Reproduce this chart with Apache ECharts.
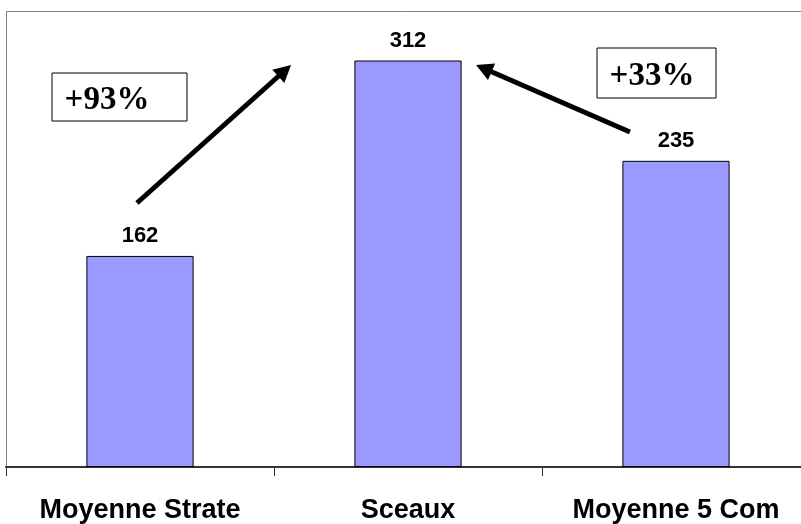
<!DOCTYPE html>
<html><head><meta charset="utf-8">
<script src="https://cdn.jsdelivr.net/npm/echarts@6/dist/echarts.min.js"></script>
<style>html,body{margin:0;padding:0;background:#fff}#c{width:801px;height:524px}</style>
</head><body><div id="c"></div>
<script>
var categories = ['Moyenne Strate', 'Sceaux', 'Moyenne 5 Com'];
var values = [162, 312, 235];
var changeLabels = ['+93%', '+33%'];

var chart = echarts.init(document.getElementById('c'));

function arrow(x1, y1, x2, y2) {
  var dx = x2 - x1, dy = y2 - y1, L = Math.sqrt(dx*dx + dy*dy);
  var ux = dx / L, uy = dy / L, px = -uy, py = ux;
  var hl = 17, hw = 9;
  var bx = x2 - ux*hl, by = y2 - uy*hl;
  return [
    {type:'line', shape:{x1:x1, y1:y1, x2:bx+ux*2, y2:by+uy*2}, style:{stroke:'#000', lineWidth:5}},
    {type:'polygon', shape:{points:[[x2,y2],[bx+px*hw,by+py*hw],[bx-px*hw,by-py*hw]]}, style:{fill:'#000'}}
  ];
}

function box(x, y, w, h, txt, tx) {
  return [
    {type:'rect', shape:{x:x, y:y, width:w, height:h}, style:{fill:'#fff', stroke:'#000', lineWidth:1}},
    {type:'text', x:tx, y:y + h/2 + 3, style:{text:txt, font:'bold 33px "Liberation Serif", "Times New Roman", serif', fill:'#000', align:'center', verticalAlign:'middle'}}
  ];
}

var graphics = [].concat(
  [
    {type:'line', shape:{x1:6, y1:11.5, x2:801, y2:11.5}, style:{stroke:'#808080', lineWidth:1}},
    {type:'line', shape:{x1:6.5, y1:11, x2:6.5, y2:467}, style:{stroke:'#808080', lineWidth:1}}
  ],
  arrow(137, 203, 291, 65),
  arrow(630, 132, 476, 65),
  box(52, 73, 135, 48, changeLabels[0], 107),
  box(597, 48, 119, 50, changeLabels[1], 652)
);

chart.setOption({
  animation: false,
  grid: {left: 6, top: 11, width: 804, height: 456, outerBoundsMode: 'none', containLabel: false},
  xAxis: {
    type: 'category', data: categories,
    axisLine: {lineStyle: {color: '#333', width: 2}},
    axisTick: {show: true, length: 9, lineStyle: {color: '#333'}},
    axisLabel: {interval: 0, hideOverlap: false, margin: 30, fontFamily: '"Liberation Sans", Arial, sans-serif', fontWeight: 'bold', fontSize: 27, color: '#000'}
  },
  yAxis: {
    type: 'value', min: 0, max: 350,
    axisLine: {show: false}, axisTick: {show: false}, axisLabel: {show: false}, splitLine: {show: false}
  },
  series: [{
    type: 'bar', data: values, barWidth: '40%',
    itemStyle: {color: '#9999FF', borderColor: '#000', borderWidth: 1},
    label: {show: true, position: 'top', distance: 9, fontFamily: '"Liberation Sans", Arial, sans-serif', fontWeight: 'bold', fontSize: 22, color: '#000'}
  }],
  graphic: graphics
});
</script></body></html>
